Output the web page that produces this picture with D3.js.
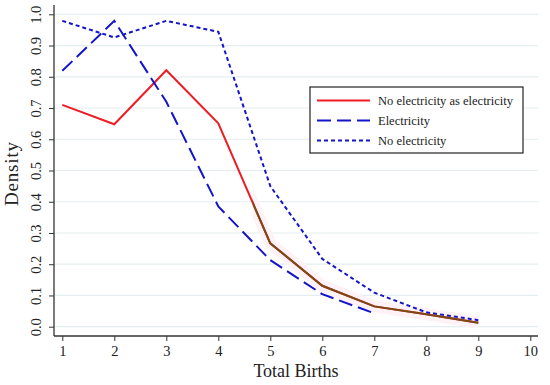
<!DOCTYPE html>
<html>
<head>
<meta charset="utf-8">
<script src="https://cdn.jsdelivr.net/npm/d3@7"></script>
<style>
  body { margin: 0; background: #fff; }
  text { font-family: "Liberation Serif", "DejaVu Serif", serif; fill: #222; }
</style>
</head>
<body>
<svg id="chart" width="550" height="385"></svg>
<script>
// values
let births = [1, 2, 3, 4, 5, 6, 7, 8, 9]
let noElecAsElec = [0.71, 0.648, 0.821, 0.651, 0.267, 0.131, 0.065, 0.040, 0.013]
let electricity = [0.819, 0.979, 0.72, 0.385, 0.213, 0.104, 0.043]
let noElectricity = [0.979, 0.926, 0.979, 0.944, 0.45, 0.217, 0.109, 0.046, 0.021]
let xTicks = [1, 2, 3, 4, 5, 6, 7, 8, 9, 10]
let yTicks = [0, 0.1, 0.2, 0.3, 0.4, 0.5, 0.6, 0.7, 0.8, 0.9, 1.0]

let series = [
  { name: 'No electricity as electricity', values: noElecAsElec, color: '#ee1c25', dash: null },
  { name: 'Electricity', values: electricity, color: '#1414c8', dash: '14,6' },
  { name: 'No electricity', values: noElectricity, color: '#1414c8', dash: '4,3' }
]

let svg = d3.select('#chart')
let plotLeft = 54, plotRight = 538, plotTop = 5, plotBottom = 336

let x = d3.scaleLinear().domain([1, 10]).range([62.3, 530.3])
let y = d3.scaleLinear().domain([0, 1]).range([326.7, 14.3])

// grid
svg.append('g')
  .selectAll('line')
  .data(yTicks)
  .enter()
  .append('line')
  .attr('x1', plotLeft + 1).attr('x2', plotRight)
  .attr('y1', d => y(d)).attr('y2', d => y(d))
  .attr('stroke', '#e4eef0')
  .attr('stroke-width', 1.2)

// axes
let yAxis = svg.append('g')
  .attr('transform', `translate(${plotLeft},0)`)
  .call(d3.axisLeft(y).tickValues(yTicks).tickFormat(d3.format('.1f')).tickSize(5).tickSizeOuter(0))
yAxis.select('.domain').attr('d', `M0,${plotTop}V${plotBottom}`).attr('stroke', '#333').attr('stroke-width', 1.3)
yAxis.selectAll('.tick line').attr('stroke', '#333')
yAxis.selectAll('.tick text')
  .attr('font-size', 14.5)
  .attr('x', null).attr('dy', null)
  .attr('text-anchor', 'middle')
  .attr('transform', 'translate(-13,0) rotate(-90)')

let xAxis = svg.append('g')
  .attr('transform', `translate(0,${plotBottom})`)
  .call(d3.axisBottom(x).tickValues(xTicks).tickFormat(d3.format('d')).tickSize(5).tickSizeOuter(0))
xAxis.select('.domain').attr('d', `M${plotLeft},0H${plotRight}`).attr('stroke', '#333').attr('stroke-width', 1.3)
xAxis.selectAll('.tick line').attr('stroke', '#333')
xAxis.selectAll('.tick text').attr('font-size', 14.5).attr('y', 10)

// titles
svg.append('text')
  .attr('x', (plotLeft + plotRight) / 2).attr('y', 377)
  .attr('text-anchor', 'middle')
  .attr('font-size', 18)
  .text('Total Births')
svg.append('text')
  .attr('transform', 'translate(18,174) rotate(-90)')
  .attr('text-anchor', 'middle')
  .attr('font-size', 19)
  .attr('textLength', 64)
  .text('Density')

let line = d3.line()
  .x((d, i) => x(births[i]))
  .y(d => y(d))

// faint halo + brownish overlay on the tail of the red series
svg.append('defs').append('clipPath').attr('id', 'tail')
  .append('rect')
  .attr('x', x(4.66)).attr('y', 0)
  .attr('width', 550).attr('height', 385)

svg.append('path')
  .attr('d', line(noElecAsElec))
  .attr('clip-path', 'url(#tail)')
  .attr('fill', 'none')
  .attr('stroke', '#fef2f7')
  .attr('stroke-width', 12)

series.forEach(s => {
  svg.append('path')
    .attr('d', line(s.values))
    .attr('fill', 'none')
    .attr('stroke', s.color)
    .attr('stroke-width', 2)
    .attr('stroke-dasharray', s.dash)
})

svg.append('path')
  .attr('d', line(noElecAsElec))
  .attr('clip-path', 'url(#tail)')
  .attr('fill', 'none')
  .attr('stroke', '#7a4a14')
  .attr('stroke-width', 2)

// legend
let legend = svg.append('g').attr('transform', 'translate(310,87)')
legend.append('rect')
  .attr('width', 213).attr('height', 66)
  .attr('fill', '#fff')
  .attr('stroke', '#222')
  .attr('stroke-width', 1.2)

let rows = legend.selectAll('.row')
  .data(series)
  .enter()
  .append('g')
  .attr('class', 'row')
  .attr('transform', (d, i) => `translate(0,${13.5 + i * 20})`)

rows.append('line')
  .attr('x1', 7).attr('x2', 60)
  .attr('stroke', d => d.color)
  .attr('stroke-width', 2)
  .attr('stroke-dasharray', d => d.dash)

rows.append('text')
  .attr('x', 68).attr('y', 4)
  .attr('font-size', 12.5)
  .text(d => d.name)
</script>
</body>
</html>
